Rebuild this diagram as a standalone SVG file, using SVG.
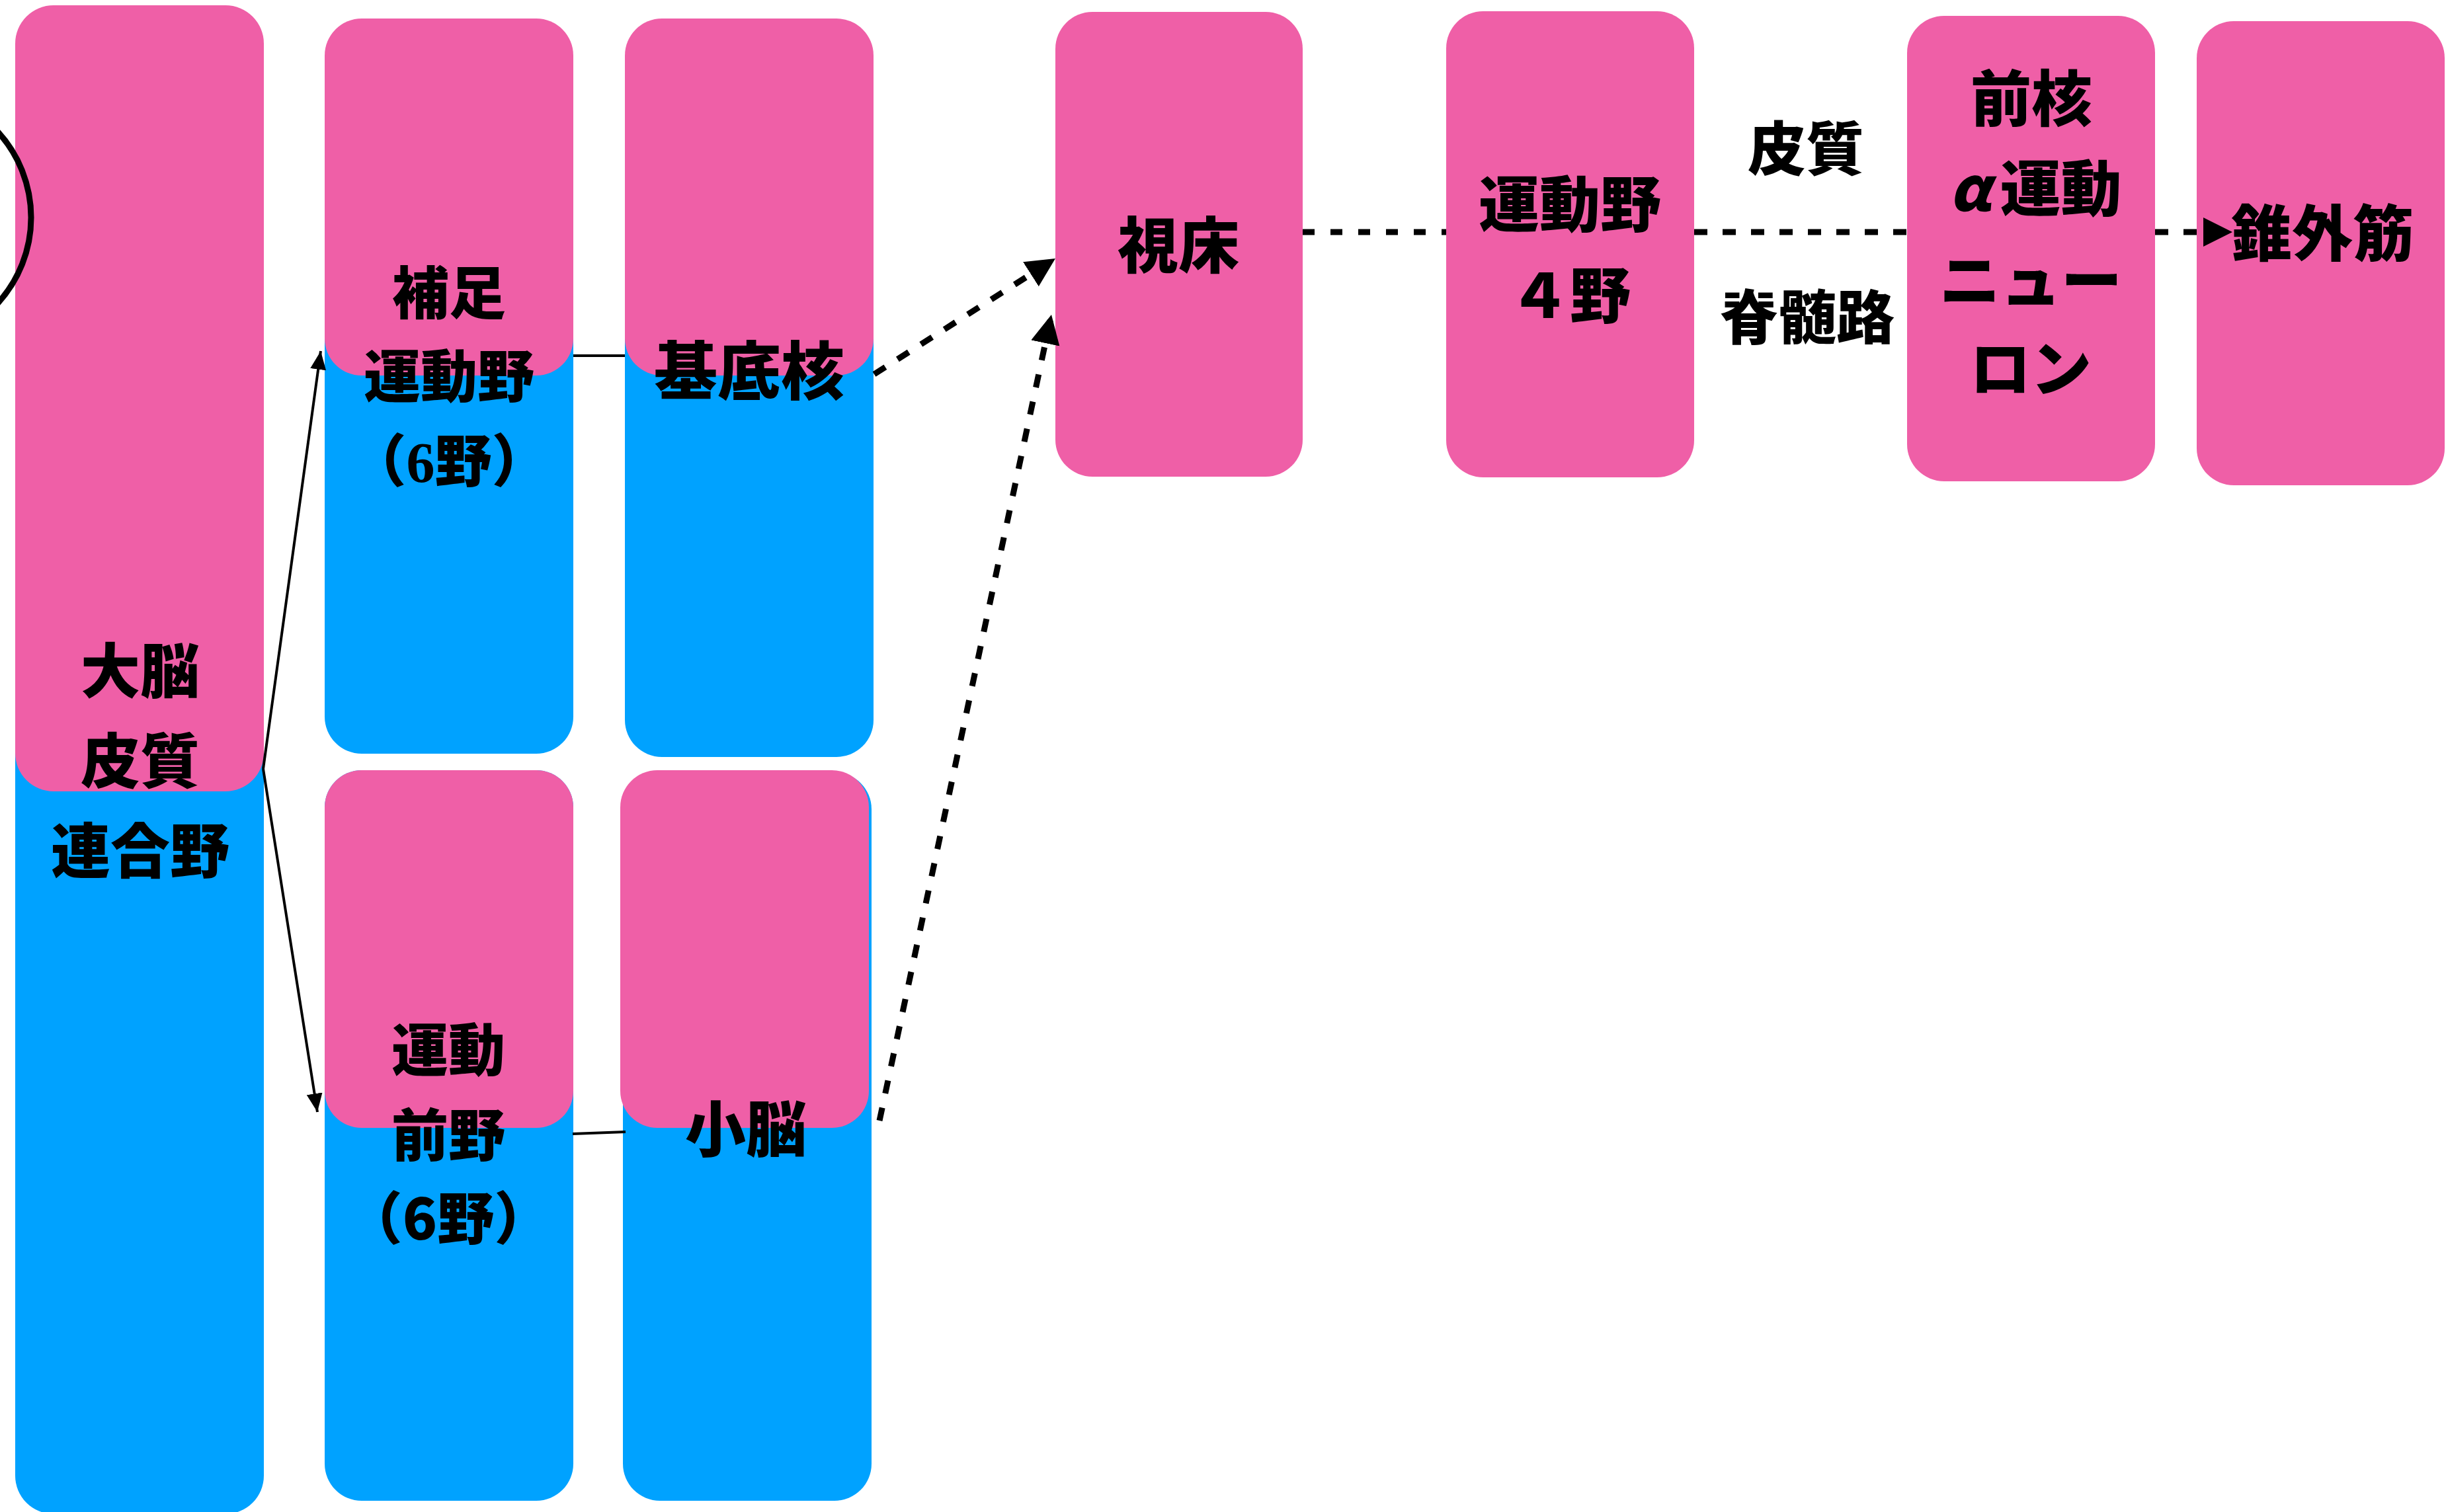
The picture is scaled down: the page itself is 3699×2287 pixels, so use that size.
<svg xmlns="http://www.w3.org/2000/svg" width="3699" height="2287" viewBox="0 0 3699 2287">
<style>
.pink{fill:#EF5FA7}
.blue{fill:#00A2FF}
.t{font-family:"Noto Sans CJK JP","Noto Sans CJK SC",sans-serif;font-weight:900;fill:#000;text-anchor:middle}
.ts{font-family:"Liberation Serif","Noto Sans CJK JP",serif;font-weight:900;fill:#000;text-anchor:middle}
.solid{stroke:#000;stroke-width:4;fill:none}
.dash{stroke:#000;stroke-width:9;fill:none;stroke-dasharray:20 22}
</style>
<defs>
<marker id="bigArrow" markerUnits="userSpaceOnUse" markerWidth="46" markerHeight="46" refX="44" refY="22" orient="auto" viewBox="0 0 46 46">
<path d="M0,0 L44,22 L0,44 z" fill="#000"/>
</marker>
<marker id="smallArrow" markerUnits="userSpaceOnUse" markerWidth="30" markerHeight="26" refX="28" refY="12" orient="auto" viewBox="0 0 30 26">
<path d="M0,0 L28,12 L0,24 z" fill="#000"/>
</marker>
</defs>
<rect width="3699" height="2287" fill="#fff"/>

<g id="node-daino">
<rect class="blue" x="23" y="100" width="376" height="2190" rx="58" ry="58"/>
<rect class="pink" x="23" y="8" width="376" height="1189" rx="58" ry="58"/>
<text class="ts" x="212" y="1048" font-size="90">大脳</text>
<text class="ts" x="212" y="1184" font-size="90">皮質</text>
<text class="t" x="212" y="1320" font-size="90">連合野</text>
</g>

<g id="partial-circle">
<circle cx="-145" cy="329" r="192" fill="none" stroke="#000" stroke-width="9"/>
</g>

<g id="node-hosoku">
<rect class="blue" x="491" y="100" width="376" height="1040" rx="56" ry="56"/>
<rect class="pink" x="491" y="28" width="376" height="540" rx="56" ry="56"/>
<text class="ts" x="679" y="475" font-size="86">補足</text>
<text class="ts" x="679" y="601" font-size="86">運動野</text>
<text class="ts" x="679" y="729" font-size="86">（6野）</text>
</g>

<g id="node-kiteikaku">
<rect class="blue" x="945" y="100" width="376" height="1045" rx="56" ry="56"/>
<rect class="pink" x="945" y="28" width="376" height="540" rx="56" ry="56"/>
<text class="ts" x="1133" y="596" font-size="96">基底核</text>
</g>

<g id="node-undozenya">
<rect class="blue" x="491" y="1165" width="376" height="1105" rx="56" ry="56"/>
<rect class="pink" x="491" y="1165" width="376" height="541" rx="56" ry="56"/>
<text class="t" x="678" y="1620" font-size="86">運動</text>
<text class="t" x="678" y="1749" font-size="86">前野</text>
<text class="t" x="678" y="1875" font-size="86">（6野）</text>
</g>

<g id="node-shono">
<rect class="blue" x="942" y="1168" width="376" height="1102" rx="56" ry="56"/>
<rect class="pink" x="938" y="1165" width="376" height="541" rx="56" ry="56"/>
<text class="t" x="1128" y="1742" font-size="92">小脳</text>
</g>

<g id="node-shisho">
<rect class="pink" x="1596" y="18" width="374" height="703" rx="56" ry="56"/>
<text class="t" x="1782" y="405" font-size="92">視床</text>
</g>

<g id="node-undoya">
<rect class="pink" x="2187" y="17" width="375" height="705" rx="56" ry="56"/>
<text class="t" x="2374" y="343" font-size="92">運動野</text>
<text class="t" x="2374" y="481" font-size="92">４野</text>
</g>

<g id="node-alpha">
<rect class="pink" x="2884" y="24" width="375" height="704" rx="56" ry="56"/>
<text class="t" x="3072" y="183" font-size="92">前核</text>
<text class="t" x="3078" y="319" font-size="92"><tspan font-style="italic">α</tspan><tspan dx="14">運動</tspan></text>
<text class="t" x="3071" y="458" font-size="92">ニュー</text>
<text class="t" x="3071" y="592" font-size="92">ロン</text>
</g>

<g id="node-suigaikin">
<rect class="pink" x="3322" y="32" width="375" height="702" rx="56" ry="56"/>
<text class="t" x="3512" y="387" font-size="92">錐外筋</text>
</g>

<g id="labels">
<text class="t" x="2731" y="257" font-size="88">皮質</text>
<text class="t" x="2733" y="512" font-size="88">脊髄路</text>
</g>

<g id="connectors">
<line class="solid" x1="398" y1="1163" x2="485" y2="531" marker-end="url(#smallArrow)"/>
<line class="solid" x1="398" y1="1163" x2="480" y2="1682" marker-end="url(#smallArrow)"/>
<line class="solid" x1="867" y1="538" x2="945" y2="538"/>
<line class="solid" x1="866" y1="1715" x2="946" y2="1712"/>
<line class="dash" x1="1322" y1="566" x2="1596" y2="391" marker-end="url(#bigArrow)"/>
<line class="dash" x1="1330" y1="1695" x2="1590" y2="476" marker-end="url(#bigArrow)"/>
<line class="dash" x1="1970" y1="351" x2="2187" y2="351" style="stroke-dasharray:18 24"/>
<line class="dash" x1="2562" y1="351" x2="2884" y2="351" style="stroke-dasharray:20 23"/>
<line class="dash" x1="3259" y1="351" x2="3376" y2="351" style="stroke-dasharray:20 23" marker-end="url(#bigArrow)"/>
</g>
</svg>
